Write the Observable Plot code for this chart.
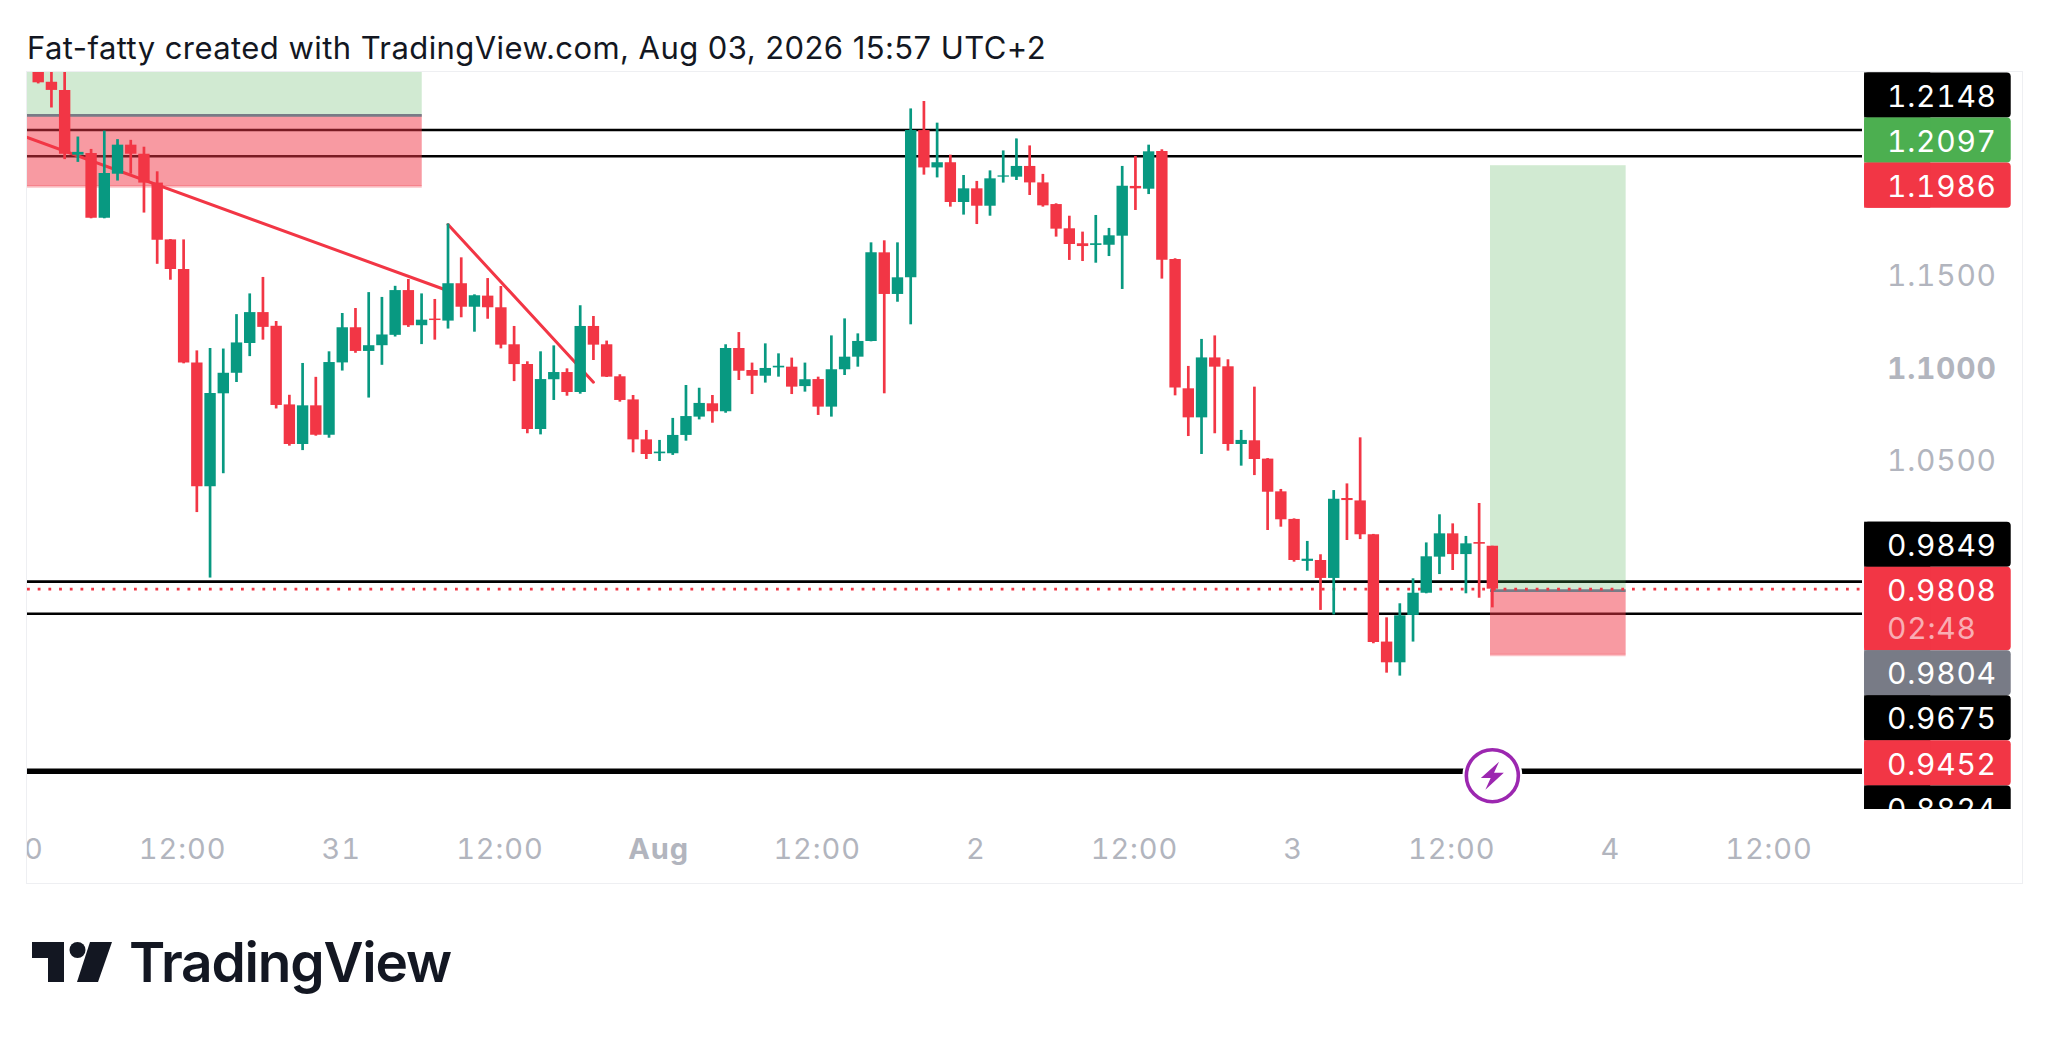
<!DOCTYPE html>
<html>
<head>
<meta charset="utf-8">
<script src="https://cdn.jsdelivr.net/npm/d3@7"></script>
<script src="https://cdn.jsdelivr.net/npm/@observablehq/plot@0.6"></script>
<style>
html,body{margin:0;padding:0;background:#fff;width:2048px;height:1043px;overflow:hidden;font-family:Inter,"Noto Sans",sans-serif;}
#title{position:absolute;left:27px;top:28px;font-size:31px;letter-spacing:.43px;line-height:40px;color:#131722;white-space:nowrap;}
#frame{position:absolute;left:26px;top:71px;width:1995px;height:811px;border:1px solid #eeeff2;}
#chart{position:absolute;left:0;top:0;}
#logo{position:absolute;left:0;top:900px;}
g[aria-label="text"] text{letter-spacing:.75px;font-variant-numeric:tabular-nums;}
g[aria-label="x-axis tick label"] text{letter-spacing:.9px;}
</style>
</head>
<body>
<div id="title">Fat-fatty created with TradingView.com, Aug 03, 2026 15:57 UTC+2</div>
<div id="frame"><div id="chart"></div></div>
<svg id="logo" width="520" height="120" viewBox="0 0 520 120">
  <path d="M32 42H64V82H48V58H32Z" fill="#131722"/>
  <circle cx="77.5" cy="50" r="8" fill="#131722"/>
  <path d="M90 42H112L98 82H77Z" fill="#131722"/>
  <text x="129" y="82" font-family="Inter" font-weight="600" font-size="55" letter-spacing="-1.2" fill="#131722">TradingView</text>
</svg>
<script>
const red = "#F23645", green = "#089981", muted = "#B2B5BE";
const opens = [1.2750,1.2548,1.2504,1.2154,1.2163,1.1813,1.2051,1.2208,1.2159,1.2003,1.1696,1.1536,1.1031,1.0361,1.0864,1.0975,1.1136,1.1303,1.1229,1.0804,1.0590,1.0799,1.0640,1.1031,1.1221,1.1093,1.1124,1.1180,1.1422,1.1232,1.1268,1.1257,
1.1459,1.1332,1.1392,1.1329,1.1129,1.1022,1.0671,1.0940,1.0979,1.0871,1.1228,1.1129,1.0956,1.0831,1.0615,1.0540,1.0540,1.0639,1.0738,1.0810,1.0767,1.1109,1.0990,1.0959,1.1004,1.1008,1.0903,1.0941,1.0792,1.0994,1.1062,1.1147,1.1626,1.1401,
1.1491,1.2287,1.2085,1.2113,1.1898,1.1972,1.1878,1.2035,1.2035,1.2093,1.2004,1.1887,1.1756,1.1675,1.1666,1.1667,1.1716,1.1985,1.1970,1.2174,1.1590,1.0891,1.0734,1.1058,1.1010,1.0590,1.0610,
1.0511,1.0334,1.0185,0.9958,0.9963,0.9866,1.0298,1.0285,1.0102,0.9522,0.9410,0.9666,0.9786,0.9981,1.0107,0.9995,1.0060,1.0040];
const highs = [1.2800,1.2640,1.2700,1.2252,1.2185,1.2284,1.2238,1.2234,1.2197,1.2064,1.1698,1.1696,1.1096,1.1109,1.1106,1.1292,1.1404,1.1493,1.1255,1.0856,1.1028,1.0953,1.1091,1.1298,1.1325,1.1411,1.1385,1.1445,1.1482,1.1404,1.1374,1.1782,
1.1599,1.1399,1.1487,1.1444,1.1228,1.1037,1.1091,1.1123,1.0999,1.1340,1.1282,1.1149,1.0967,1.0855,1.0666,1.0612,1.0731,1.0909,1.0894,1.0855,1.1129,1.1195,1.1030,1.1134,1.1080,1.1057,1.1030,1.0954,1.1177,1.1269,1.1188,1.1680,1.1691,1.1680,
1.2404,1.2444,1.2327,1.2154,1.2044,1.2012,1.2069,1.2177,1.2242,1.2204,1.2050,1.1891,1.1824,1.1738,1.1828,1.1758,1.2093,1.2147,1.2208,1.2183,1.1594,1.1012,1.1158,1.1177,1.1048,1.0666,1.0900,
1.0514,1.0347,1.0188,1.0066,0.9994,1.0341,1.0377,1.0626,1.0104,0.9653,0.9729,0.9864,1.0058,1.0210,1.0161,1.0093,1.0271,1.0040];
const lows = [1.2539,1.2409,1.2130,1.2115,1.1810,1.1810,1.2014,1.2051,1.1841,1.1564,1.1478,1.1026,1.0222,0.9868,1.0432,1.0925,1.1065,1.1154,1.0782,1.0581,1.0557,1.0635,1.0624,1.0987,1.1083,1.0841,1.1018,1.1171,1.1223,1.1130,1.1154,1.1214,
1.1275,1.1197,1.1267,1.1107,1.0930,1.0648,1.0642,1.0828,1.0851,1.0862,1.1044,1.0952,1.0819,1.0545,1.0509,1.0498,1.0531,1.0608,1.0723,1.0705,1.0759,1.0936,1.0860,1.0922,1.0954,1.0860,1.0873,1.0747,1.0738,1.0963,1.1008,1.1145,1.0864,1.1359,
1.1237,1.2046,1.2031,1.1873,1.1830,1.1779,1.1824,1.2003,1.2017,1.1936,1.1873,1.1711,1.1585,1.1579,1.1570,1.1606,1.1428,1.1855,1.1941,1.1484,1.0853,1.0633,1.0536,1.0648,1.0554,1.0473,1.0422,
1.0125,1.0143,0.9954,0.9905,0.9693,0.9669,1.0071,1.0076,0.9513,0.9354,0.9338,0.9522,0.9783,0.9887,0.9909,0.9783,0.9759,0.9707];
const closes = [1.2545,1.2504,1.2159,1.2169,1.1813,1.2055,1.2208,1.2159,1.2003,1.1694,1.1536,1.1031,1.0361,1.0866,1.0975,1.1139,1.1303,1.1223,1.0801,1.0590,1.0799,1.0640,1.1033,1.1221,1.1093,1.1124,1.1182,1.1422,1.1232,1.1262,1.1260,1.1459,
1.1332,1.1394,1.1329,1.1127,1.1022,1.0671,1.0941,1.0979,1.0871,1.1228,1.1127,1.0954,1.0828,1.0615,1.0536,1.0549,1.0639,1.0741,1.0812,1.0767,1.1109,1.0986,1.0959,1.1001,1.1013,1.0900,1.0940,1.0792,1.0994,1.1062,1.1147,1.1626,1.1401,1.1491,
1.2287,1.2085,1.2113,1.1898,1.1972,1.1878,1.2026,1.2042,1.2093,1.2004,1.1880,1.1754,1.1671,1.1660,1.1675,1.1718,1.1986,1.1972,1.2172,1.1586,1.0895,1.0734,1.1058,1.1008,1.0590,1.0612,1.0509,
1.0332,1.0183,0.9963,0.9970,0.9866,1.0294,1.0287,1.0102,0.9520,0.9410,0.9664,0.9786,0.9983,1.0107,0.9995,1.0053,1.0051,0.9808];

// Hour 0 of the candle series is Jul 30 2026, 01:00 on the chart's clock
const firstBar = Date.UTC(2026, 6, 30, 1);
const hour = h => new Date(firstBar + h * 3600e3);
const candles = opens.map((o, i) => ({t: hour(i), o, h: highs[i], l: lows[i], c: closes[i], col: closes[i] < o ? red : green}));

const visibleHours = [-0.81, 138];
const priceDomain = [0.8617, 1.26008];

const blackLevels = [1.2290, 1.2148, 0.9849, 0.9675];
const heavyLevel = 0.8824;
const lastPrice = 0.9808;

// positions: [from hour, to hour, target, entry, stop]
const positions = [
  {from: -3, to: 29.05, tp: 1.2800, entry: 1.2369, sl: 1.1984},
  {from: 109.86, to: 120.12, tp: 1.2097, entry: 0.9800, sl: 0.9452}
];
const trend = [
  {id: 1, h: -1, p: 1.2254}, {id: 1, h: 31, p: 1.1421},
  {id: 2, h: 31, p: 1.1779}, {id: 2, h: 42, p: 1.0927}
];

const priceTicks = ["1.1500", "1.0500"];
const priceTickBold = ["1.1000"];

// Price tags are stacked like the platform's collision layout, from an anchor price downward
const tagRow = 0.02437;
const tagGroups = [
  {start: 1.25985, tags: [["1.2148", "#000000", 1], ["1.2097", "#4CAF50", 1], ["1.1986", red, 1]]},
  {start: 1.0170, tags: [["0.9849", "#000000", 1], ["0.9808", red, 1.85, "02:48"], ["0.9804", "#787B86", 1], ["0.9675", "#000000", 1], ["0.9452", red, 1], ["0.8824", "#000000", 1]]}
];
const tags = [];
for (const g of tagGroups) {
  let top = g.start;
  for (const [label, fill, rows, sub] of g.tags) {
    const bottom = top - rows * tagRow;
    tags.push({label, fill, sub, top, bottom, mid: top - tagRow / 2, subMid: top - 1.34 * tagRow});
    top = bottom;
  }
}
const tagEnd = visibleHours[1] + 11.25;
const tagGap = visibleHours[1] + 0.16;

const dayTicks = [
  [-1, "30"], [11, "12:00"], [23, "31"], [35, "12:00"], [59, "12:00"], [71, "2"], [83, "12:00"], [95, "3"], [107, "12:00"], [119, "4"], [131, "12:00"]
];
const monthTicks = [[47, "Aug"]];
const tickLabel = list => d => (list.find(([h]) => +hour(h) === +d) || [, ""])[1];

const bolt = {draw(c, size) {
  const r = Math.sqrt(size / Math.PI);
  const pts = [[0.48,-1],[-0.82,0.16],[-0.12,0.16],[-0.5,1],[0.82,-0.22],[0.12,-0.22]];
  pts.forEach(([x, y], i) => i ? c.lineTo(x * r, y * r) : c.moveTo(x * r, y * r));
  c.closePath();
}};

const tagFont = {fontSize: 30, fill: "white", textAnchor: "start", dx: 24.5, dy: 1.5, frameAnchor: "right"};

const chart = Plot.plot({
  width: 1994,
  height: 811,
  marginLeft: 0,
  marginRight: 159,
  marginTop: 0,
  marginBottom: 74,
  style: {fontFamily: "Inter", background: "transparent"},
  x: {type: "utc", domain: visibleHours.map(hour), axis: null},
  y: {domain: priceDomain, axis: null},
  marks: [
    Plot.ruleY(blackLevels, {stroke: "#000", strokeWidth: 2.7}),
    Plot.ruleY([heavyLevel], {stroke: "#000", strokeWidth: 5.4}),
    Plot.rect(positions, {x1: d => hour(d.from), x2: d => hour(d.to), y1: "entry", y2: "tp", fill: "#4CAF50", fillOpacity: 0.26, clip: true}),
    Plot.rect(positions, {x1: d => hour(d.from), x2: d => hour(d.to), y1: "sl", y2: "entry", fill: red, fillOpacity: 0.5, clip: true}),
    Plot.ruleY(positions, {x1: d => hour(d.from), x2: d => hour(d.to), y: "sl", stroke: red, strokeOpacity: 0.3, strokeWidth: 2.5, clip: true}),
    Plot.ruleY(positions, {x1: d => hour(d.from), x2: d => hour(d.to), y: "entry", stroke: "#787B86", strokeWidth: 2.6, clip: true}),
    Plot.ruleY([lastPrice], {stroke: red, strokeWidth: 2.8, strokeDasharray: "2.8 7.9"}),
    Plot.line(trend, {x: d => hour(d.h), y: "p", z: "id", stroke: red, strokeWidth: 3, clip: true}),
    Plot.ruleX(candles, {x: "t", y1: "l", y2: "h", stroke: "col", strokeWidth: 2.7, clip: true}),
    Plot.ruleX(candles, {x: "t", y1: "o", y2: "c", stroke: "col", strokeWidth: 11.4, clip: true}),
    Plot.dot([heavyLevel], {x: () => hour(110), y: d => d, r: 30, fill: "white", dy: 4.5}),
    Plot.dot([heavyLevel], {x: () => hour(110), y: d => d, r: 26, fill: "white", stroke: "#9C27B0", strokeWidth: 3.6, dy: 4.5}),
    Plot.dot([heavyLevel], {x: () => hour(110), y: d => d, r: 14, symbol: bolt, fill: "#9C27B0", dy: 4.5}),
    Plot.text(priceTicks, {y: d => +d, text: d => d, ...tagFont, fill: muted, dy: 0.5}),
    Plot.text(priceTickBold, {y: d => +d, text: d => d, ...tagFont, fontWeight: 700, fill: muted, dy: 0.5}),
    Plot.rect(tags, {x1: () => hour(tagGap), x2: () => hour(tagEnd), y1: "bottom", y2: "top", fill: "fill", rx: 4}),
    Plot.rect(tags, {x1: () => hour(tagGap), x2: () => hour(tagGap + 5), y1: "bottom", y2: "top", fill: "fill"}),
    Plot.text(tags, {y: "mid", text: "label", ...tagFont}),
    Plot.text(tags.filter(d => d.sub), {y: "subMid", text: "sub", ...tagFont, fillOpacity: 0.6}),
    Plot.rect([priceDomain[0]], {x1: () => hour(tagGap - 1), x2: () => hour(tagEnd + 1), y1: d => d, y2: d => d - 0.04, fill: "white"}),
    Plot.axisX({anchor: "bottom", ticks: dayTicks.map(([h]) => hour(h)), tickFormat: tickLabel(dayTicks), tickSize: 0, tickPadding: 29, dx: -1, fontSize: 29, color: muted, label: null}),
    Plot.axisX({anchor: "bottom", ticks: monthTicks.map(([h]) => hour(h)), tickFormat: tickLabel(monthTicks), tickSize: 0, tickPadding: 29, dx: -1, fontSize: 29, fontWeight: 700, color: muted, label: null})
  ]
});
document.getElementById("chart").append(chart);
</script>
</body>
</html>
